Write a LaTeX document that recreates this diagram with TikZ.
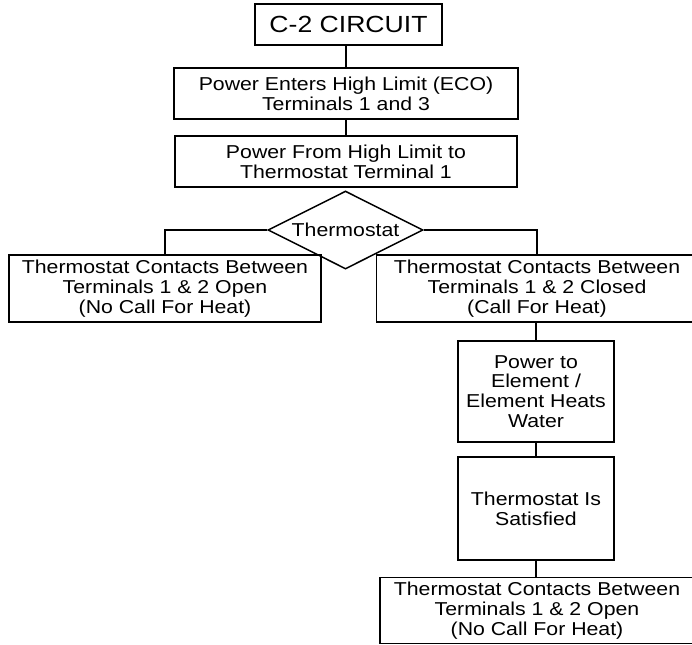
\documentclass[tikz,border=0pt]{standalone}
\usepackage{fontspec}
\setmainfont{Liberation Sans}[FakeStretch=1.14]
\usepackage{tikz}
\usetikzlibrary{shapes.geometric}

\begin{document}
\begin{tikzpicture}[x=0.75pt,y=-0.75pt,
  caja/.style={draw, line width=1.1pt, align=center, inner sep=0pt,
    font=\fontsize{14}{14.8}\selectfont},
  rombo/.style={draw, diamond, aspect=2, line width=1.1pt, inner sep=0pt,
    minimum width=116.25pt, minimum height=58.5pt,
    font=\fontsize{14}{14.8}\selectfont},
  linea/.style={line width=1.1pt}]
  % Marco
  \useasboundingbox (0,0) rectangle (692,644);

  % Cajas de arriba
  \node[caja, minimum width=140pt, minimum height=30.75pt,
    font=\fontsize{17.5}{20}\selectfont] (circ) at (348.5,24.5) {C-2 CIRCUIT};
  \node[caja, minimum width=258pt, minimum height=38pt] (eco) at (346,93.5)
    {Power Enters High Limit (ECO)\\Terminals 1 and 3};
  \node[caja, minimum width=256.5pt, minimum height=38.25pt] (alto) at (346,161.5)
    {Power From High Limit to\\Thermostat Terminal 1};

  % Rombo del termostato
  \node[rombo] (termo) at (345.5,230) {Thermostat};

  % Las dos ramas
  \node[caja, minimum width=234pt, minimum height=50.25pt] (abierto) at (165,288.5)
    {Thermostat Contacts Between\\Terminals 1 \& 2 Open\\(No Call For Heat)};
  \node[caja, minimum width=240.75pt, minimum height=50.25pt] (cerrado) at (537,288.5)
    {Thermostat Contacts Between\\Terminals 1 \& 2 Closed\\(Call For Heat)};

  % Rama de la derecha
  \node[caja, minimum width=117pt, minimum height=75.75pt] (elemento) at (536,391.5)
    {Power to\\Element /\\Element Heats\\Water};
  \node[caja, minimum width=117pt, minimum height=77.25pt] (satisf) at (536,508.5)
    {Thermostat Is\\Satisfied};
  \node[caja, minimum width=235.5pt, minimum height=49.5pt] (fin) at (537,610.5)
    {Thermostat Contacts Between\\Terminals 1 \& 2 Open\\(No Call For Heat)};

  % Lineas
  \draw[linea] (eco.north |- circ.south) -- (eco.north);
  \draw[linea] (eco) -- (alto);
  \draw[linea] (termo.west) -| (abierto.north);
  \draw[linea] (termo.east) -| (cerrado.north);
  \draw[linea] (cerrado.south -| elemento) -- (elemento);
  \draw[linea] (elemento) -- (satisf);
  \draw[linea] (satisf) -- (fin.north -| satisf);
\end{tikzpicture}
\end{document}
